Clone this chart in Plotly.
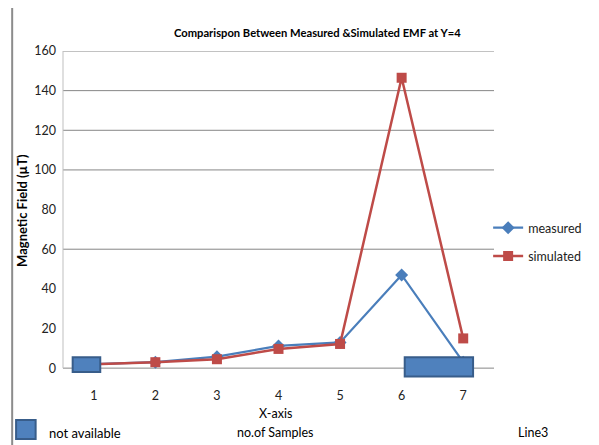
import plotly.graph_objects as go

# ---- data ----
categories = ["1", "2", "3", "4", "5", "6", "7"]
measured = [2, 3, 5.8, 11.2, 13, 47, 3]
simulated = [2, 3, 4.5, 9.7, 12.2, 146.5, 15]
y_tick_values = [0, 20, 40, 60, 80, 100, 120, 140, 160]
grid_values = [60, 100, 120, 140, 160]

title_text = "Comparispon Between Measured &Simulated EMF at Y=4"
y_title = "Magnetic Field (µT)"
x_title_1 = "X-axis"
x_title_2 = "no.of Samples"
note_text = "not available"
corner_text = "Line3"

FONT = "Lato, Liberation Sans Narrow, DejaVu Sans Condensed, sans-serif"
BLUE = "#4A7EBB"
RED = "#BE4B48"
BOX_FILL = "#4F81BD"
BOX_LINE = "#385D8A"
GRID = "#868686"

# the page is drawn with an 8px body margin; the figure is sized to fit inside
OFF = 8
W, H = 599 - OFF, 445 - OFF
PL, PR, PT, PB = 63, 504, 51, 384   # plot area in reference pixels
PW, PH = PR - PL, PB - PT


def px(x):
    return (x - PL) / PW


def py(y):
    return (PB - y) / PH


fig = go.Figure()
fig.add_trace(go.Scatter(
    x=categories, y=measured, name="measured", mode="lines+markers",
    line=dict(color=BLUE, width=2.2),
    marker=dict(symbol="diamond", size=10, color=BLUE),
    legendgroup="a", cliponaxis=False,
))
fig.add_trace(go.Scatter(
    x=categories, y=simulated, name="simulated", mode="lines+markers",
    line=dict(color=RED, width=2.5),
    marker=dict(symbol="square", size=10, color=RED),
    legendgroup="b", cliponaxis=False,
))

shapes = []
for g in grid_values:
    shapes.append(dict(type="line", xref="paper", yref="y", x0=0, x1=1, y0=g, y1=g,
                       line=dict(color=GRID, width=1), layer="below"))
shapes.append(dict(type="line", xref="paper", yref="y", x0=0, x1=1, y0=0, y1=0,
                   line=dict(color=GRID, width=1), layer="below"))
shapes.append(dict(type="line", xref="paper", yref="y", x0=0, x1=0, y0=0, y1=max(y_tick_values),
                   line=dict(color="#BFBFBF", width=1), layer="below"))
# "not available" boxes
shapes.append(dict(type="rect", xref="x", yref="y", x0=-0.343, x1=0.105, y0=-2.0, y1=5.5,
                   fillcolor=BOX_FILL, line=dict(color=BOX_LINE, width=2), layer="above"))
shapes.append(dict(type="rect", xref="x", yref="y", x0=5.05, x1=6.16, y0=-4.2, y1=5.5,
                   fillcolor=BOX_FILL, line=dict(color=BOX_LINE, width=2), layer="above"))
# legend box at bottom-left
shapes.append(dict(type="rect", xref="paper", yref="paper",
                   x0=px(15), x1=px(35), y0=py(439), y1=py(420),
                   fillcolor=BOX_FILL, line=dict(color=BOX_LINE, width=2)))
# outer chart border
shapes.append(dict(type="rect", xref="paper", yref="paper",
                   x0=px(11), x1=px(640), y0=py(480), y1=py(6.5),
                   line=dict(color="#8C8C8C", width=2), fillcolor="rgba(0,0,0,0)"))


def ann(text, x, y, size=12, anchor="center", angle=0):
    return dict(text=text, xref="paper", yref="paper", x=px(x), y=py(y), showarrow=False,
                textangle=angle, font=dict(family=FONT, size=size, color="#000"),
                xanchor=anchor, yanchor="middle")


annotations = [
    ann("<b>" + title_text + "</b>", 323, 32.5, 11.2),
    ann("<b>" + y_title + "</b>", 21, 210, 13),
    ann(x_title_1, 280, 413, 12.5),
    ann(x_title_2, 280, 433, 12.5),
    ann(note_text, 47, 433, 13, anchor="left"),
    ann(corner_text, 527, 433, 12.5, anchor="left"),
]
annotations[1]["textangle"] = -90

fig.update_layout(
    width=W, height=H,
    margin=dict(l=PL - OFF, r=W - (PR - OFF), t=PT - OFF, b=H - (PB - OFF)),
    paper_bgcolor="white", plot_bgcolor="white",
    font=dict(family=FONT, size=12, color="#222"),
    showlegend=True,
    legend=dict(x=px(498), xanchor="left", y=py(213), yanchor="top",
                font=dict(family=FONT, size=12.5, color="#222"),
                tracegroupgap=9, itemwidth=30, bgcolor="rgba(0,0,0,0)"),
    shapes=shapes,
    annotations=annotations,
)
fig.update_xaxes(type="category", range=[-0.5, 6.5], showgrid=False, zeroline=False,
                 showline=False, ticks="", tickfont=dict(family=FONT, size=12.5, color="#222"),
                 ticklabelstandoff=2)
fig.update_yaxes(range=[-8, 160], tickvals=y_tick_values, showgrid=False, zeroline=False,
                 showline=False, ticks="", tickfont=dict(family=FONT, size=12.5, color="#222"),
                 ticklabelstandoff=6)

fig.write_html("out.html")
